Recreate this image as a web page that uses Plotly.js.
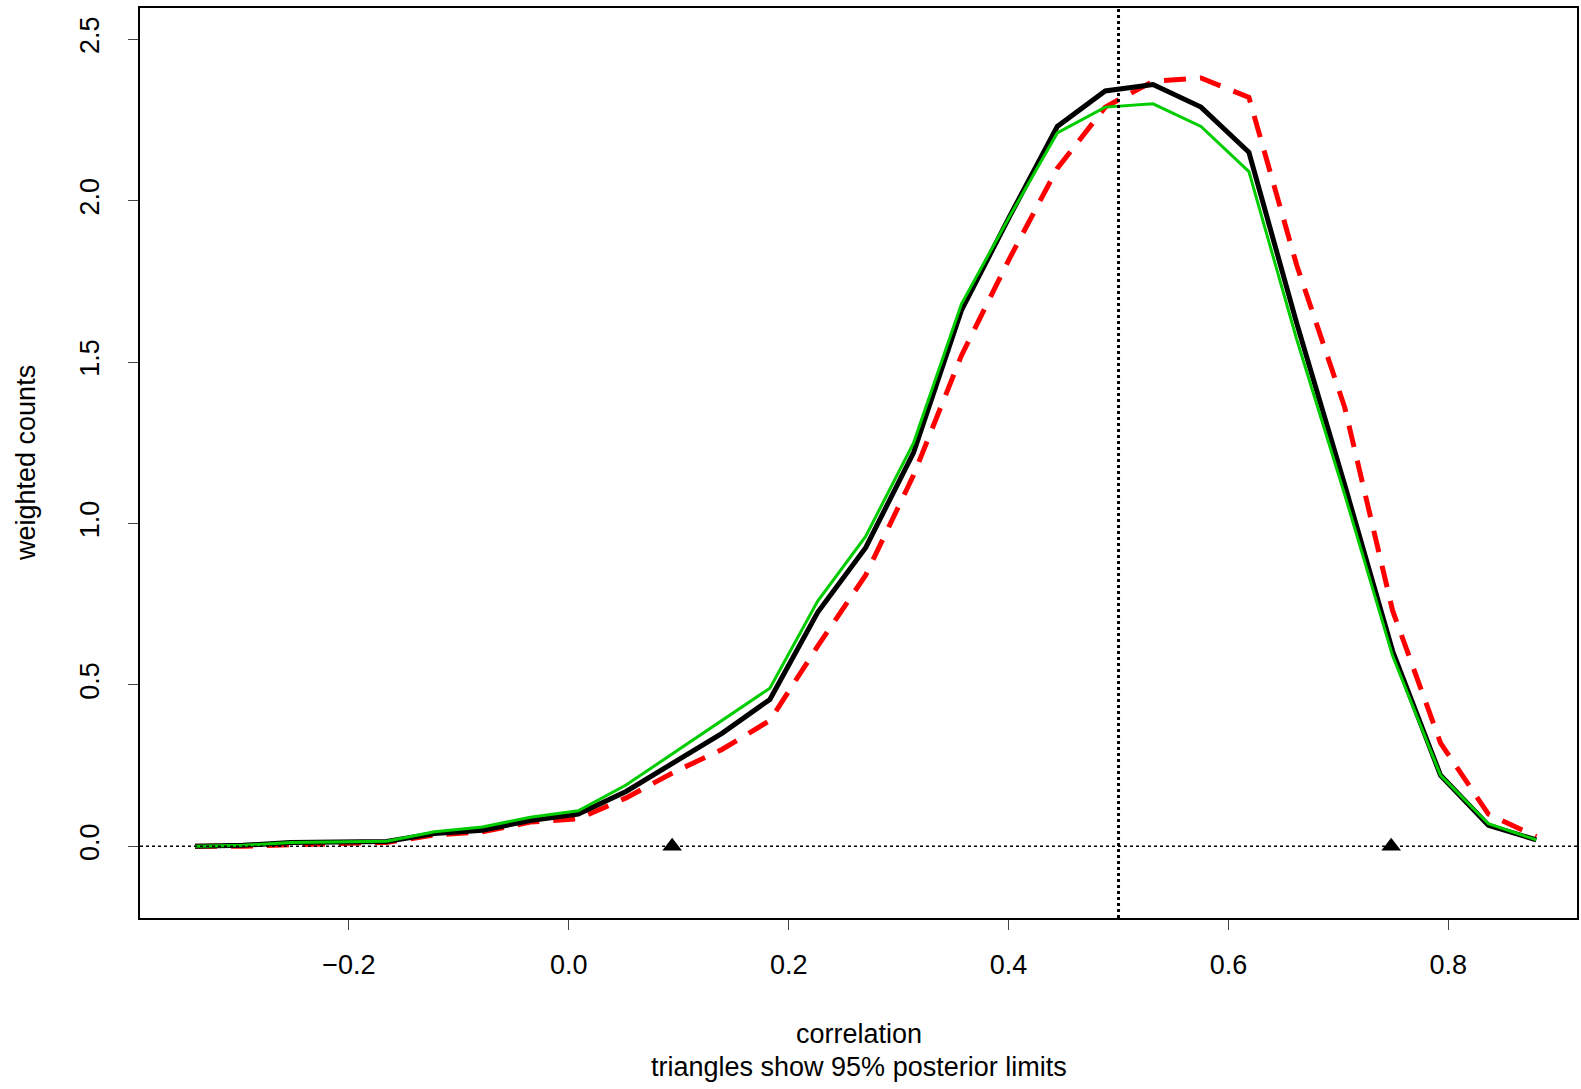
<html><head><script src="https://cdn.plot.ly/plotly-3.0.1.min.js"></script></head><body style="margin:0;overflow:hidden">
<div id="c" style="width:1581px;height:1089px"></div>
<script>
const xs=[-0.34,-0.2964,-0.2529,-0.2093,-0.1657,-0.1221,-0.0786,-0.035,0.0086,0.0521,0.0957,0.1393,0.1829,0.2264,0.27,0.3136,0.3571,0.4007,0.4443,0.4879,0.5314,0.575,0.6186,0.6621,0.7057,0.7493,0.7929,0.8364,0.88];
const black=[0,0.003,0.012,0.012,0.015,0.04,0.05,0.08,0.10,0.17,0.26,0.35,0.455,0.725,0.925,1.22,1.66,1.95,2.23,2.34,2.36,2.29,2.15,1.62,1.12,0.605,0.22,0.065,0.02];
const green=[0,0.003,0.012,0.013,0.016,0.045,0.06,0.09,0.11,0.19,0.29,0.39,0.49,0.76,0.96,1.25,1.68,1.95,2.21,2.29,2.30,2.23,2.09,1.57,1.09,0.59,0.22,0.07,0.02];
const red=[0,0,0.005,0.01,0.012,0.035,0.045,0.075,0.085,0.15,0.23,0.30,0.39,0.62,0.84,1.15,1.52,1.82,2.10,2.29,2.37,2.38,2.32,1.80,1.36,0.73,0.32,0.10,0.03];
const limits=[0.094,0.748];
const vline=0.5;
const f={family:"Liberation Sans, Arial",size:27,color:"#000"};
Plotly.newPlot("c",[
{x:xs,y:red,mode:"lines",line:{color:"#ff0000",width:5,dash:"22px,14px"}},
{x:xs,y:black,mode:"lines",line:{color:"#000",width:5}},
{x:xs,y:green,mode:"lines",line:{color:"#00cc00",width:3}},
{x:limits,y:[0,0],mode:"markers",marker:{symbol:"triangle-up",size:17,color:"#000"}}
],{
width:1581,height:1089,showlegend:false,plot_bgcolor:"#fff",paper_bgcolor:"#fff",font:f,
margin:{l:140,r:4,t:8,b:171},
xaxis:{range:[-0.39,0.917],tickvals:[-0.2,0,0.2,0.4,0.6,0.8],ticktext:["\u22120.2","0.0","0.2","0.4","0.6","0.8"],ticks:"outside",ticklen:10,ticklabelstandoff:12,showgrid:false,zeroline:false,showline:true,mirror:true,linecolor:"#000",linewidth:1.5,tickfont:f},
yaxis:{range:[-0.222,2.597],tickvals:[0,0.5,1,1.5,2,2.5],ticktext:["0.0","0.5","1.0","1.5","2.0","2.5"],tickangle:-90,ticks:"outside",ticklen:10,ticklabelstandoff:18,showgrid:false,zeroline:false,showline:true,mirror:true,linecolor:"#000",linewidth:1.5,tickfont:f},
annotations:[
{text:"correlation",xref:"paper",yref:"paper",x:0.5,y:0,yshift:-116,yanchor:"middle",showarrow:false,font:f},
{text:"triangles show 95% posterior limits",xref:"paper",yref:"paper",x:0.5,y:0,yshift:-149,yanchor:"middle",showarrow:false,font:f},
{text:"weighted counts",xref:"paper",yref:"paper",x:0,xshift:-114,y:0.5,xanchor:"center",textangle:-90,showarrow:false,font:f}
],
shapes:[
{type:"line",xref:"paper",x0:0,x1:1,y0:0,y1:0,line:{color:"#000",width:1.5,dash:"dot"}},
{type:"line",yref:"paper",x0:vline,x1:vline,y0:0,y1:1,line:{color:"#000",width:3,dash:"dot"}}
]},{displayModeBar:false});
</script></body></html>
